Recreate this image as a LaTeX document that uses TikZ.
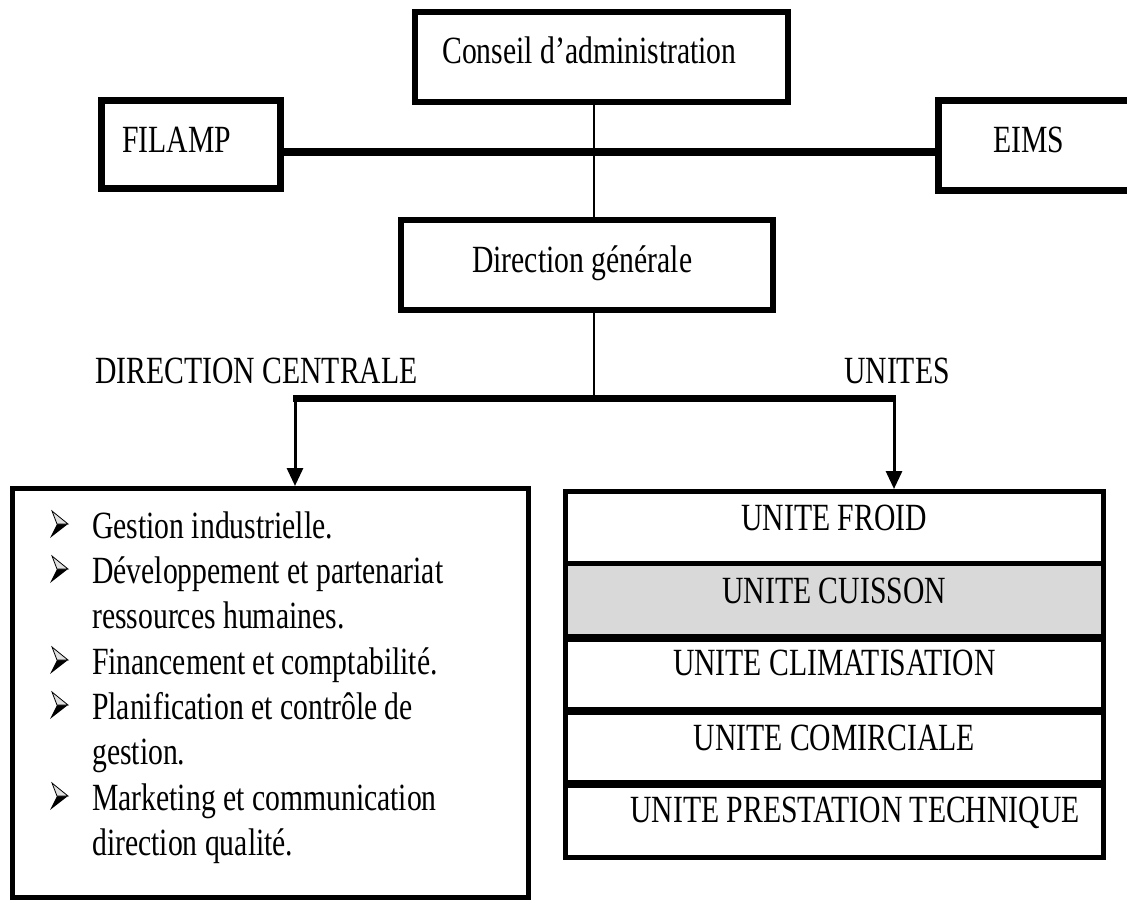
\documentclass[tikz,border=0pt]{standalone}
\usepackage{fontspec}
\setmainfont{Liberation Serif}[FakeStretch=0.771]
\usetikzlibrary{arrows.meta}
\definecolor{rowgrey}{RGB}{217,217,217}

\begin{document}
\begin{tikzpicture}[x=1pt,y=-1pt,
  box/.style={draw, line width=6pt, inner sep=0pt},
  unitrow/.style={inner sep=0pt, minimum width=538.5pt},
  lbl/.style={font=\fontsize{38.5}{45.3}\selectfont, inner sep=0pt, anchor=base west},
  ulbl/.style={lbl, anchor=base},
  thinline/.style={line width=1.5pt},
  barline/.style={line width=7pt},
  downarrow/.style={line width=3pt, -{Triangle[length=18pt,width=16pt]}},
  pics/dart/.style={code={
    \fill[black] (0,0) -- (-11,0) -- (-18,14) -- cycle;
    \filldraw[fill=black!12, draw=black, line width=0.8pt, line join=miter]
      (0,0) -- (-16,-13) -- (-11,0) -- cycle;
  }}
]
\useasboundingbox (0,0) rectangle (1127,900);
\fill[white] (0,0) rectangle (1127,900);
\clip (0,0) rectangle (1127,900);

% top level boxes
\node[box, minimum width=373pt, minimum height=89.5pt] (ca) at (601.5,56.75) {};
\node[box, line width=7pt, minimum width=179pt, minimum height=88pt] (filamp) at (191,144.5) {};
\node[box, line width=7pt, minimum width=222pt, minimum height=90pt] (eims) at (1049,145) {};
\node[box, minimum width=372.5pt, minimum height=89.5pt] (dg) at (586.75,264.75) {};

% central directorate list box
\node[box, line width=5pt, minimum width=515.5pt, minimum height=408.5pt] (dc) at (270.25,692.75) {};

% stack of units
\node[unitrow, minimum height=72pt] (u1) at (834.25,527.5) {};
\node[unitrow, minimum height=74pt, fill=rowgrey] (u2) at (834.25,600.5) {};
\node[unitrow, minimum height=73pt] (u3) at (834.25,674) {};
\node[unitrow, minimum height=73.5pt] (u4) at (834.25,747.25) {};
\node[unitrow, minimum height=73pt] (u5) at (834.25,820.5) {};
\node[box, line width=5pt, minimum width=538.5pt, minimum height=365.5pt] (units) at (834.25,674.25) {};
\draw[line width=5pt] (u1.south west) -- (u1.south east);
\draw[line width=8pt] (u2.south west) -- (u2.south east);
\draw[line width=8pt] (u3.south west) -- (u3.south east);
\draw[line width=8pt] (u4.south west) -- (u4.south east);

% labels
\node[lbl] (tca) at (442,63) {Conseil d’administration};
\node[lbl] (tfil) at (122,152) {FILAMP};
\node[lbl] (teims) at (993,152) {EIMS};
\node[lbl] (tdg) at (472,272) {Direction générale};
\node[lbl] (tdc) at (95,383) {DIRECTION CENTRALE};
\node[lbl] (tun) at (844,383) {UNITES};

\node[ulbl] (t1) at (834.25,530) {UNITE FROID};
\node[ulbl] (t2) at (834.25,603) {UNITE CUISSON};
\node[ulbl] (t3) at (834.25,675) {UNITE CLIMATISATION};
\node[ulbl] (t4) at (834.25,750) {UNITE COMIRCIALE};
\node[ulbl] (t5) at (855,822) {UNITE PRESTATION TECHNIQUE};

% bulleted list
\node[lbl] (l1) at (92,538) {Gestion industrielle.};
\node[lbl] (l2) at (92,583) {Développement et partenariat};
\node[lbl] (l3) at (92,628) {ressources humaines.};
\node[lbl] (l4) at (92,674) {Financement et comptabilité.};
\node[lbl] (l5) at (92,719) {Planification et contrôle de};
\node[lbl] (l6) at (92,764) {gestion.};
\node[lbl] (l7) at (92,810) {Marketing et communication};
\node[lbl] (l8) at (92,855) {direction qualité.};
\pic at (68,524) {dart};
\pic at (68,569) {dart};
\pic at (68,660) {dart};
\pic at (68,705) {dart};
\pic at (68,796) {dart};

% connectors
\coordinate (spine) at (594,398.5);
\coordinate (link) at (600,152);
\coordinate (armL) at (295,398.5);
\coordinate (armR) at (894,398.5);
\draw[thinline] (spine |- ca.south) -- (spine |- dg.north);
\draw[thinline] (spine |- dg.south) -- (spine);
\draw[line width=8pt] (filamp.east |- link) -- (eims.west |- link);
\draw[barline] ([xshift=-2pt]armL) -- ([xshift=2pt]armR);
\draw[downarrow] (armL) -- (armL |- dc.north);
\draw[downarrow] (armR) -- (armR |- units.north);
\end{tikzpicture}
\end{document}
